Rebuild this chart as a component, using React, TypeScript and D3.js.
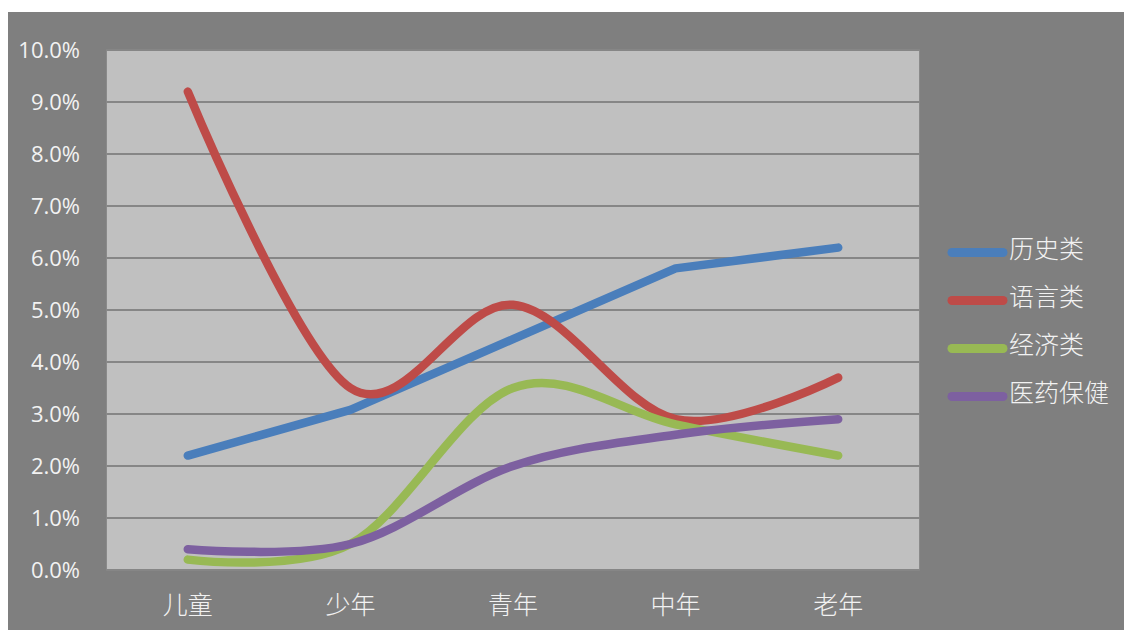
import React, { useEffect, useRef } from "react";
import * as d3 from "d3";

const categories = ["儿童", "少年", "青年", "中年", "老年"];
const seriesNames = ["历史类", "语言类", "经济类", "医药保健"];
const seriesColors = ["#4A7EBB", "#BE4B48", "#98B954", "#7D60A0"];
const seriesSmooth = [false, true, true, true];
const history = [2.2, 3.08, 4.44, 5.8, 6.2];
const language = [9.2, 3.5, 5.1, 2.9, 3.7];
const economy = [0.2, 0.5, 3.5, 2.8, 2.2];
const medicine = [0.4, 0.5, 2.0, 2.6, 2.9];
const yTicks = [0, 1, 2, 3, 4, 5, 6, 7, 8, 9, 10];

const allSeries = [history, language, economy, medicine];

export default function App() {
  const svgRef = useRef<SVGSVGElement>(null);

  useEffect(() => {
    if (!svgRef.current) return;
    const svg = d3.select(svgRef.current);
    svg.selectAll("*").remove();

    // page coordinates (body margin is 8px)
    const root = svg.append("g").attr("transform", "translate(-8,-8)");

    root
      .append("rect")
      .attr("x", 8)
      .attr("y", 12)
      .attr("width", 1124)
      .attr("height", 618)
      .attr("fill", "#7F7F7F");

    const plot = { left: 106.5, right: 919.5, top: 50, bottom: 570 };

    const x = d3
      .scaleBand<string>()
      .domain(categories)
      .range([plot.left, plot.right]);
    const y = d3.scaleLinear().domain([0, 10]).range([plot.bottom, plot.top]);

    root
      .append("rect")
      .attr("x", plot.left)
      .attr("y", plot.top)
      .attr("width", plot.right - plot.left)
      .attr("height", plot.bottom - plot.top)
      .attr("fill", "#C0C0C0")
      .attr("stroke", "#8A8A8A")
      .attr("stroke-width", 1);

    // gridlines
    root
      .append("g")
      .selectAll("line")
      .data(yTicks)
      .enter()
      .append("line")
      .attr("x1", plot.left)
      .attr("x2", plot.right)
      .attr("y1", (d) => y(d))
      .attr("y2", (d) => y(d))
      .attr("stroke", "#868686")
      .attr("stroke-width", 2);

    // y labels
    root
      .append("g")
      .selectAll("text")
      .data(yTicks)
      .enter()
      .append("text")
      .attr("x", 80)
      .attr("y", (d) => y(d))
      .attr("dy", "0.36em")
      .attr("text-anchor", "end")
      .attr("fill", "#F2F2F2")
      .style("font-family", "'Open Sans', 'Noto Sans', sans-serif")
      .style("font-size", "22px")
      .text((d) => `${d.toFixed(1)}%`);

    // x labels
    root
      .append("g")
      .selectAll("text")
      .data(categories)
      .enter()
      .append("text")
      .attr("x", (d) => (x(d) || 0) + x.bandwidth() / 2)
      .attr("y", 605)
      .attr("dy", "0.36em")
      .attr("text-anchor", "middle")
      .attr("fill", "#F2F2F2")
      .style("font-family", "'Noto Sans CJK SC', sans-serif")
      .style("font-weight", 300)
      .style("font-size", "25px")
      .text((d) => d);

    allSeries.forEach((s, i) => {
      const line = d3
        .line<number>()
        .x((_, j) => (x(categories[j]) || 0) + x.bandwidth() / 2)
        .y((d) => y(d))
        .curve(seriesSmooth[i] ? d3.curveCardinal.tension(0) : d3.curveLinear);

      root
        .append("path")
        .datum(s)
        .attr("fill", "none")
        .attr("stroke", seriesColors[i])
        .attr("stroke-width", 8.5)
        .attr("stroke-linecap", "round")
        .attr("stroke-linejoin", "round")
        .attr("d", line);
    });

    // legend
    const legend = root.append("g");
    seriesNames.forEach((name, i) => {
      const ly = 252.5 + i * 48;
      legend
        .append("line")
        .attr("x1", 952)
        .attr("x2", 1003)
        .attr("y1", ly)
        .attr("y2", ly)
        .attr("stroke", seriesColors[i])
        .attr("stroke-width", 9)
        .attr("stroke-linecap", "round");
      legend
        .append("text")
        .attr("x", 1009)
        .attr("y", ly - 4)
        .attr("dy", "0.36em")
        .attr("fill", "#F2F2F2")
        .style("font-family", "'Noto Sans CJK SC', sans-serif")
        .style("font-weight", 300)
        .style("font-size", "25px")
        .text(name);
    });
  }, []);

  return (
    <svg
      ref={svgRef}
      width={1124}
      height={622}
      style={{ display: "block" }}
    />
  );
}
